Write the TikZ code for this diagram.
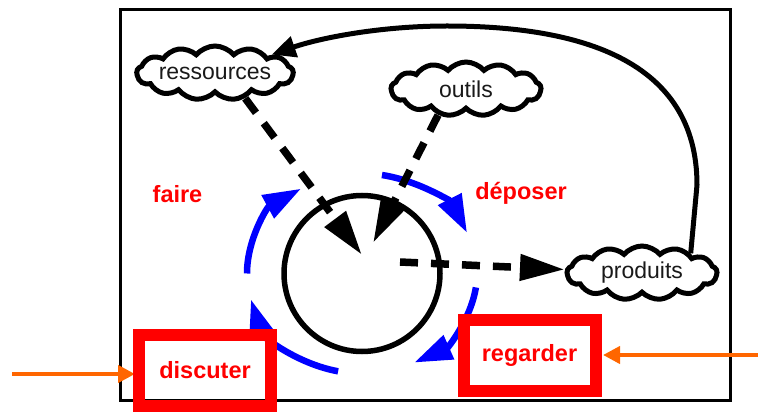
\documentclass[tikz,border=0pt]{standalone}
\usepackage{fontspec}
\setmainfont{Liberation Sans}
\usetikzlibrary{shapes.symbols,arrows.meta}
\definecolor{arrorange}{RGB}{255,102,0}
\tikzstyle{cloudbox} = [cloud, cloud puffs=13, cloud puff arc=100, cloud ignores aspect, draw=black, line width=5pt, minimum width=150pt, minimum height=54pt, inner sep=0pt, text=black!90, font=\fontsize{23}{27}\selectfont]
\tikzstyle{redbox} = [rectangle, draw=red, line width=12pt, minimum width=132pt, minimum height=71pt, text=red, font=\bfseries\fontsize{23.5}{28}\selectfont]
\tikzstyle{redlabel} = [anchor=base, text=red, font=\bfseries\fontsize{23.5}{28}\selectfont]
\tikzstyle{dasharrow} = [line width=7.5pt, dash pattern=on 18pt off 13pt, -{Triangle[length=45pt,width=25pt]}]
\tikzstyle{bluearrow} = [blue, line width=6.5pt, -{Triangle[length=38pt,width=25pt]}]
\tikzstyle{looparrow} = [line width=5pt, -{Triangle[length=24pt,width=21pt]}]
\tikzstyle{orangearrow} = [arrorange, line width=4pt, -{Triangle[length=17pt,width=17pt]}]

\begin{document}
\begin{tikzpicture}[x=1pt, y=-1pt]
\useasboundingbox (0,0) rectangle (758,414);

% frame
\draw[line width=3.5pt] (120.5,9.5) rectangle (730.5,400.5);

\node(res) [cloudbox] at (215,73) {ressources};
\node(outils) [cloudbox] at (466,89) {outils};
\node(prod) [cloudbox] at (642,273) {produits};
\node(centre) [circle, draw, line width=5.5pt, minimum size=156pt, inner sep=0pt] at (362,273.5) {};

\coordinate (tipres) at (362,255);
\coordinate (tipout) at (373,243);
\coordinate (depart) at (400,262);

% cycle around the circle
\draw [bluearrow] ([shift={(180:115pt and 100pt)}]centre.center) arc[start angle=180, end angle=122, x radius=115pt, y radius=100pt];
\draw [bluearrow] ([shift={(80:115pt and 100pt)}]centre.center) arc[start angle=80, end angle=24, x radius=115pt, y radius=100pt];
\draw [bluearrow] ([shift={(-8:115pt and 100pt)}]centre.center) arc[start angle=-8, end angle=-63, x radius=115pt, y radius=100pt];
\draw [bluearrow] ([shift={(-102:115pt and 100pt)}]centre.center) arc[start angle=-102, end angle=-165, x radius=115pt, y radius=100pt];

\draw [dasharrow] (res.-40) -- (tipres);
\draw [dasharrow] (outils.-137) -- (tipout);
\draw [dasharrow] (depart) -- (prod);
\draw [looparrow] (prod.22) -- (697,185) .. controls (697,60) and (580,26) .. (447,26) .. controls (380,26) and (320,38) .. (res.18);

\node(faire) [redlabel] at (177.5,203) {faire};
\node(deposer) [redlabel] at (521,200) {déposer};

\coordinate (inL) at (12,374);
\coordinate (inR) at (758,355);
\draw [orangearrow] (inL) -- (135,374);
\draw [orangearrow] (inR) -- (603,355);

\node(discuter) [redbox] at (205,370) {discuter};
\node(regarder) [redbox] at (529.5,355) {regarder};

\end{tikzpicture}
\end{document}
